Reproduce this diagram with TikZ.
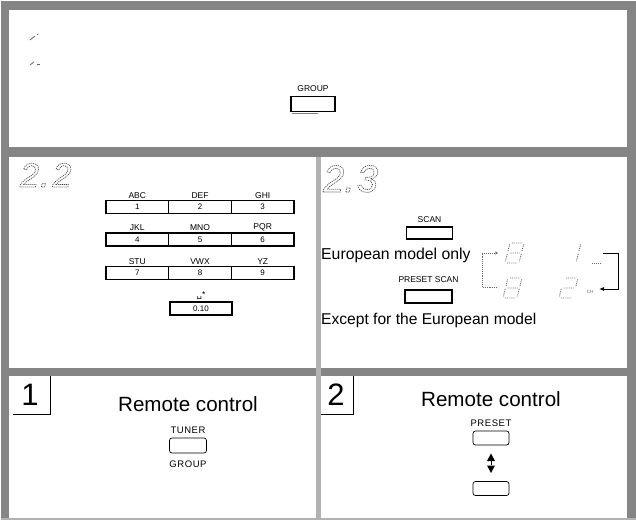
\documentclass[tikz,border=0pt]{standalone}
\usepackage{fontspec}
\setmainfont{Liberation Sans}
\newfontfamily\djv{DejaVu Sans}
\usetikzlibrary{arrows.meta}
\newcommand\outltext[1]{\special{pdf:literal direct 1 Tr 0.7 w [1.1 0.9] 0 d}#1\special{pdf:literal direct 0 Tr [] 0 d}}
\newcommand\fs[1]{\fontsize{#1}{#1}\selectfont}
\newcommand\sgA{(2,-20)--(12,-20)}
\newcommand\sgB{(14,-18.5)--(14,-11)}
\newcommand\sgC{(14,-9)--(14,-1.5)}
\newcommand\sgD{(2,0)--(12,0)}
\newcommand\sgE{(0,-9)--(0,-1.5)}
\newcommand\sgF{(0,-18.5)--(0,-11)}
\newcommand\sgG{(2,-10)--(12,-10)}
\begin{document}
\begin{tikzpicture}[x=1pt,y=-1pt,
  band/.style={fill=black!48,draw=none},
  lightband/.style={fill=black!30,draw=none},
  lbl/.style={font=\fs{8.5},inner sep=0pt},
  rlbl/.style={font=\fs{9.5}\addfontfeature{LetterSpace=6},inner sep=0pt},
  keybox/.style={draw,line width=1.3pt,minimum width=62.7pt,minimum height=13pt,inner sep=0pt,font=\fs{8}},
  btn/.style={draw,line width=1.3pt,inner sep=0pt,minimum width=46pt,minimum height=12pt},
  rbtn/.style={draw,line width=0.7pt,rounded corners=2.5pt,inner sep=0pt,minimum width=37pt,minimum height=15pt},
  big/.style={font=\fs{20.6},inner sep=0pt,anchor=base},
  note/.style={font=\fs{15.8},inner sep=0pt,anchor=base west},
  outl/.style={text=black!70,inner sep=0pt,anchor=base west},
  seg/.style={draw=black!60,line width=0.9pt,densely dotted},
  frameline/.style={line width=0.9pt},
  speck/.style={draw=black!60,line width=0.8pt}]
\useasboundingbox (0,0) rectangle (636,521);
% borders
\fill[band] (1,1) rectangle (636,10);
\fill[band] (1,1) rectangle (9,519);
\fill[band] (627,1) rectangle (636,519);
\fill[band] (1,147) rectangle (636,157);
\fill[band] (1,368) rectangle (636,376);
\fill[lightband] (316,157) rectangle (321,519);
\fill[lightband] (1,518) rectangle (636,520);
% top panel
\draw[speck] (30,40) -- (35,36);
\draw[speck] (37,34.5) -- (38.5,34);
\draw[speck] (30,65) -- (34,62);
\draw[speck] (37,64.5) -- (40,64.5);
\node[btn,minimum width=44pt,minimum height=15pt] (groupbtn) at (313,104) {};
\node[lbl,anchor=south] (grouplbl) at ([yshift=4pt]groupbtn.north) {GROUP};
\draw[black!50,line width=0.6pt] ([xshift=2pt,yshift=-1.5pt]groupbtn.south west) -- ([xshift=-18pt,yshift=-1.5pt]groupbtn.south east);
% panel 2.2
\node[outl,font=\fs{34}\itshape] (t22) at (20,187) {\outltext{2\kern1pt.\kern3pt2}};
\node[keybox] (k1) at (137.3,207) {1};
\node[keybox] (k2) at (200,207) {2};
\node[keybox] (k3) at (262.7,207) {3};
\node[keybox] (k4) at (137.3,239.5) {4};
\node[keybox] (k5) at (200,239.5) {5};
\node[keybox] (k6) at (262.7,239.5) {6};
\node[keybox] (k7) at (137.3,273) {7};
\node[keybox] (k8) at (200,273) {8};
\node[keybox] (k9) at (262.7,273) {9};
\node[keybox,minimum width=62pt] (k0) at (201,308.5) {0.10};
\node[lbl,anchor=south] (l1) at ([yshift=1.5pt]k1.north) {ABC};
\node[lbl,anchor=south] (l2) at ([yshift=1.5pt]k2.north) {DEF};
\node[lbl,anchor=south] (l3) at ([yshift=1.5pt]k3.north) {GHI};
\node[lbl,anchor=south] (l4) at ([yshift=1.5pt]k4.north) {JKL};
\node[lbl,anchor=south] (l5) at ([yshift=1.5pt]k5.north) {MNO};
\node[lbl,anchor=south] (l6) at ([yshift=1.5pt]k6.north) {PQR};
\node[lbl,anchor=south] (l7) at ([yshift=1.5pt]k7.north) {STU};
\node[lbl,anchor=south] (l8) at ([yshift=1.5pt]k8.north) {VWX};
\node[lbl,anchor=south] (l9) at ([yshift=1.5pt]k9.north) {YZ};
\node[lbl,anchor=south] (l0) at ([yshift=1.5pt]k0.north) {{\djv ␣}*};
% panel 2.3
\node[outl,font=\fs{38}\itshape] (t23) at (323,192) {\outltext{2\kern0pt.\kern2pt3}};
\node[btn] (scanbtn) at (429.5,233) {};
\node[lbl,anchor=south] (scanlbl) at ([yshift=3.5pt]scanbtn.north) {SCAN};
\node[note] (euro) at (321,259) {European model only};
\node[btn,minimum width=47pt,minimum height=13pt] (pscanbtn) at (428.5,296.5) {};
\node[lbl,anchor=south] (pscanlbl) at ([yshift=7pt]pscanbtn.north) {PRESET SCAN};
\node[note,font=\fs{15.6}] (except) at (321,324) {Except for the European model};
% display
\begin{scope}[shift={(505,263)},xslant=0.25]
  \draw[seg] \sgA \sgB \sgC \sgD \sgE \sgF \sgG;
\end{scope}
\begin{scope}[shift={(503,298)},xslant=0.25]
  \draw[seg] \sgA \sgB \sgC \sgD \sgE \sgF \sgG;
\end{scope}
\begin{scope}[shift={(562,263)},xslant=0.25]
  \draw[seg] \sgB \sgC;
\end{scope}
\begin{scope}[shift={(559,298)},xslant=0.25]
  \draw[seg] \sgA \sgB \sgG \sgE \sgD;
\end{scope}
\draw[seg] (592,263) -- (600,263);
\node[font=\fs{4.5},text=black!60,inner sep=0pt] (chlbl) at (590,292) {CH};
\coordinate (ltop) at (498,253);
\coordinate (lbot) at (497,287);
\draw[seg,-{Stealth[length=3pt,width=3pt]}] (lbot) -- ++(-15,0) |- (ltop);
\coordinate (rtop) at (603,253);
\coordinate (rbot) at (599,289);
\draw[line width=0.9pt,-{Latex[length=5pt,width=4pt]}] (rtop) -- ++(15,0) |- (rbot);
% panel 1
\draw[frameline] (13,414) -- (50,414) -- (50,376);
\node[font=\fs{31},inner sep=0pt,anchor=base] (n1) at (30,405) {1};
\node[big] (rc1) at (188,411) {Remote control};
\node[rbtn] (tunerbtn) at (188,445.5) {};
\node[rlbl,anchor=south] (tunerlbl) at ([yshift=4pt]tunerbtn.north) {TUNER};
\node[rlbl,anchor=north] (grp2lbl) at ([yshift=-7pt]tunerbtn.south) {GROUP};
% panel 2
\draw[frameline] (321,414) -- (353,414) -- (353,376);
\node[font=\fs{31},inner sep=0pt,anchor=base] (n2) at (336,405) {2};
\node[big] (rc2) at (491,406) {Remote control};
\node[rbtn,minimum width=36pt,minimum height=14pt] (pbtn1) at (491,438) {};
\node[rlbl,anchor=south] (presetlbl) at ([yshift=4pt]pbtn1.north) {PRESET};
\node[rbtn,minimum width=36pt,minimum height=14pt] (pbtn2) at (491,488.5) {};
\coordinate (arrc) at (491,463);
\fill ([shift={(-4,-2)}]arrc) -- ([shift={(4,-2)}]arrc) -- ([shift={(0,-9.5)}]arrc) -- cycle;
\fill ([shift={(-4,2.5)}]arrc) -- ([shift={(4,2.5)}]arrc) -- ([shift={(0,10)}]arrc) -- cycle;
\draw[line width=0.8pt] ([yshift=2pt]arrc) -- ([yshift=-2pt]arrc);
\end{tikzpicture}
\end{document}
